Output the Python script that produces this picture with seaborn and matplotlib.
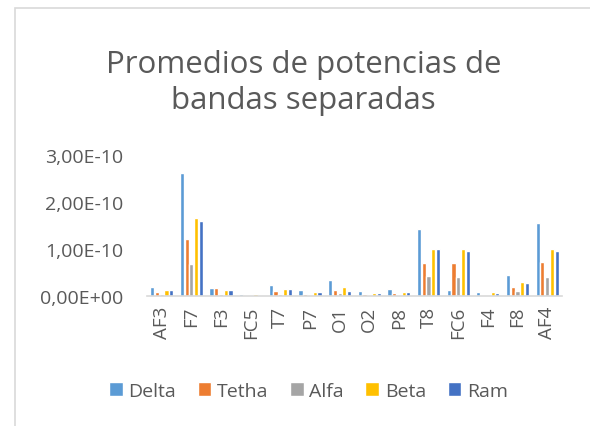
import numpy as np
import pandas as pd
import matplotlib
matplotlib.use("Agg")
import matplotlib.pyplot as plt
from matplotlib.patches import Rectangle
from matplotlib.ticker import FuncFormatter
import seaborn as sns

# channels and band averages (units of 1e-10)
channels = ["AF3", "F7", "F3", "FC5", "T7", "P7", "O1", "O2", "P8", "T8", "FC6", "F4", "F8", "AF4"]
delta = [0.19, 2.62, 0.18, 0.035, 0.24, 0.135, 0.34, 0.115, 0.155, 1.43, 0.135, 0.085, 0.45, 1.56]
tetha = [0.08, 1.21, 0.18, 0.015, 0.10, 0.05, 0.135, 0.045, 0.055, 0.70, 0.71, 0.03, 0.20, 0.72]
alfa = [0.035, 0.69, 0.05, 0.01, 0.05, 0.03, 0.065, 0.015, 0.03, 0.42, 0.40, 0.02, 0.105, 0.41]
beta = [0.135, 1.65, 0.135, 0.035, 0.155, 0.09, 0.20, 0.065, 0.09, 1.01, 1.00, 0.085, 0.30, 0.99]
ram = [0.12, 1.60, 0.13, 0.03, 0.14, 0.085, 0.115, 0.065, 0.09, 0.99, 0.96, 0.065, 0.285, 0.96]

bands = ["Delta", "Tetha", "Alfa", "Beta", "Ram"]
colors = ["#5B9BD5", "#ED7D31", "#A5A5A5", "#FFC000", "#4472C4"]

rows = []
for band, vals in zip(bands, [delta, tetha, alfa, beta, ram]):
    for ch, v in zip(channels, vals):
        rows.append({"canal": ch, "banda": band, "valor": v * 1e-10})
df = pd.DataFrame(rows)

sns.set_style("white")
plt.rcParams["font.family"] = ["Open Sans", "DejaVu Sans"]
txt = "#595959"

fig = plt.figure(figsize=(5.9, 4.27), dpi=100)
ax = fig.add_axes([0.249, 0.3044, 0.7035, 0.3303])

sns.barplot(data=df, x="canal", y="valor", hue="banda", palette=colors,
            order=channels, hue_order=bands, width=0.8, gap=0.12,
            saturation=1, ax=ax, legend=True)

ax.set_ylim(0, 3e-10)
ax.set_yticks([0, 1e-10, 2e-10, 3e-10])
ax.yaxis.set_major_formatter(FuncFormatter(
    lambda v, p: ("%.2E" % v).replace(".", ",")))
ax.set_xlim(-0.5, len(channels) - 0.5)
ax.set_xlabel("")
ax.set_ylabel("")
ax.tick_params(axis="x", labelrotation=90, length=0, pad=7, labelsize=13.5, labelcolor=txt)
ax.tick_params(axis="y", length=0, pad=17, labelsize=14, labelcolor=txt)
for s in ["top", "right", "left"]:
    ax.spines[s].set_visible(False)
ax.spines["bottom"].set_color("#d9d9d9")
ax.spines["bottom"].set_linewidth(1.2)

handles, labels = ax.get_legend_handles_labels()
ax.get_legend().remove()
fig.legend(handles, labels, loc="center", bbox_to_anchor=(0.523, 1 - 392 / 427),
           ncol=5, frameon=False, fontsize=14, labelcolor=txt,
           handlelength=0.7, handleheight=0.7, handletextpad=0.3, columnspacing=1.1)

fig.text(0.514, 1 - 83 / 427, "Promedios de potencias de\nbandas separadas",
         ha="center", va="center", fontsize=22.5, color=txt, linespacing=1.25)

fig.patches.append(Rectangle((15 / 590, -0.2), 1.2, 0.2 + 1 - 9 / 427,
                             transform=fig.transFigure, fill=False,
                             edgecolor="#d9d9d9", linewidth=1.2))

fig.savefig("out.png", dpi=100)
